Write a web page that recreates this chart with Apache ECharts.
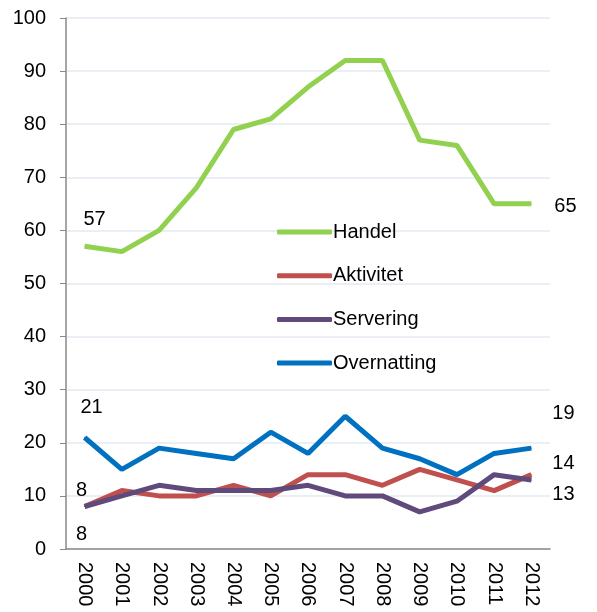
<!DOCTYPE html>
<html>
<head>
<meta charset="utf-8">
<script src="https://cdn.jsdelivr.net/npm/echarts@6/dist/echarts.min.js"></script>
<style>
  html, body { margin: 0; padding: 0; background: #fff; }
  #chart { width: 597px; height: 612px; }
</style>
</head>
<body>
<div id="chart"></div>
<script>
const years = ['2000','2001','2002','2003','2004','2005','2006','2007','2008','2009','2010','2011','2012'];
const handel = [57, 56, 60, 68, 79, 81, 87, 92, 92, 77, 76, 65, 65];
const aktivitet = [8, 11, 10, 10, 12, 10, 14, 14, 12, 15, 13, 11, 14];
const servering = [8, 10, 12, 11, 11, 11, 12, 10, 10, 7, 9, 14, 13];
const overnatting = [21, 15, 19, 18, 17, 22, 18, 25, 19, 17, 14, 18, 19];

const font = 'Liberation Sans, Arial, sans-serif';

// first and last value get a label, with their own offset
function withLabels(values, firstOffset, lastOffset) {
  return values.map((v, i) => {
    if (i === 0) {
      return { value: v, label: { show: true, position: 'inside', offset: firstOffset } };
    }
    if (i === values.length - 1) {
      return { value: v, label: { show: true, position: 'inside', offset: lastOffset } };
    }
    return v;
  });
}

function lineSeries(name, color, data) {
  return {
    name: name,
    type: 'line',
    data: data,
    symbol: 'circle',
    symbolSize: 1,
    showSymbol: true,
    lineStyle: { color: color, width: 5 },
    itemStyle: { color: color },
    label: { show: false, color: '#000', fontSize: 20, fontFamily: font },
    animation: false
  };
}

const chart = echarts.init(document.getElementById('chart'));
chart.setOption({
  grid: { left: 66, right: 47, top: 18, bottom: 63 },
  legend: {
    orient: 'vertical',
    left: 272,
    top: 217,
    itemWidth: 55,
    itemHeight: 5,
    itemGap: 23.7,
    icon: 'roundRect',
    textStyle: { color: '#000', fontSize: 20, fontFamily: font, padding: [0, 0, 0, -4] },
    data: ['Handel', 'Aktivitet', 'Servering', 'Overnatting']
  },
  xAxis: {
    type: 'category',
    data: years,
    boundaryGap: true,
    axisLine: { lineStyle: { color: '#898989', width: 1.5 } },
    axisTick: { show: false },
    axisLabel: { rotate: -90, color: '#000', fontSize: 20, fontFamily: font, margin: 13 }
  },
  yAxis: {
    type: 'value',
    min: 0,
    max: 100,
    interval: 10,
    axisLine: { show: true, lineStyle: { color: '#898989', width: 1.5 } },
    axisTick: { show: true, length: 6, lineStyle: { color: '#898989' } },
    splitLine: { lineStyle: { color: '#e3e9f2', width: 1.5 } },
    axisLabel: { color: '#000', fontSize: 20, fontFamily: font, margin: 20 }
  },
  series: [
    lineSeries('Handel', '#92d050', withLabels(handel, [10, -27], [34, 3])),
    lineSeries('Aktivitet', '#c0504d', withLabels(aktivitet, [-3, -16], [32, -11])),
    lineSeries('Servering', '#604a7b', withLabels(servering, [-3, 28], [32, 15])),
    lineSeries('Overnatting', '#0070c0', withLabels(overnatting, [7, -30], [32, -35]))
  ]
});
</script>
</body>
</html>
